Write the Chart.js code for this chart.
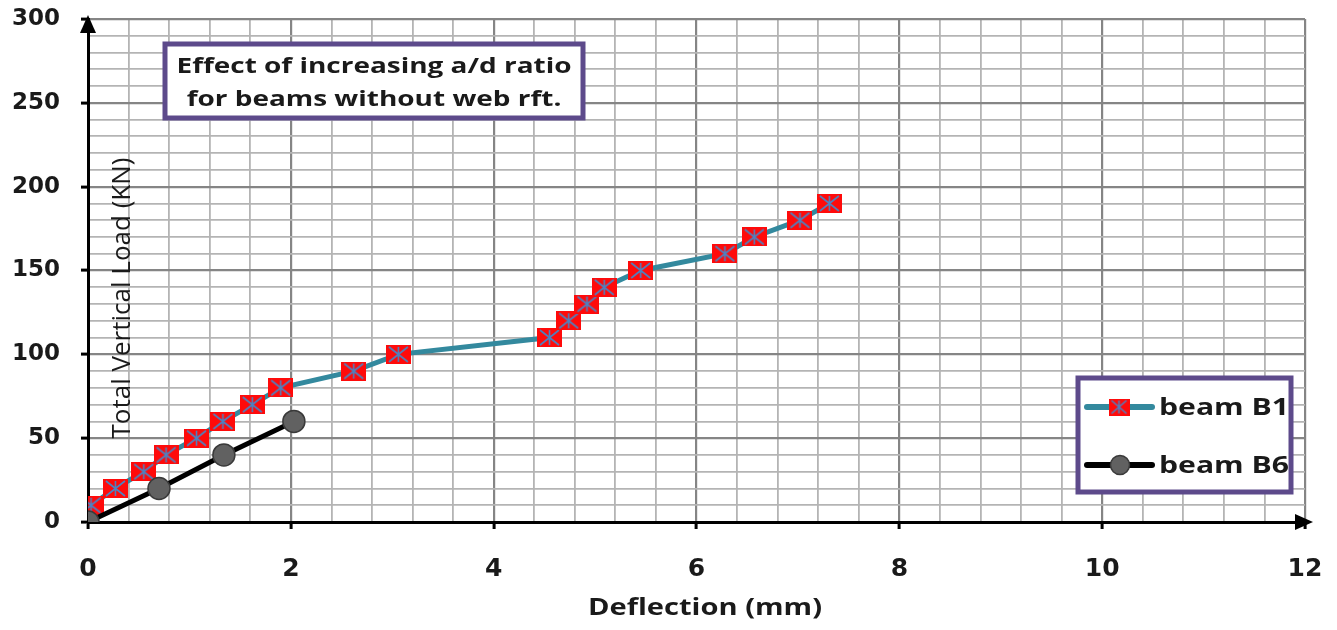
<!DOCTYPE html>
<html><head><meta charset="utf-8">
<script src="https://cdn.jsdelivr.net/npm/chart.js@4/dist/chart.umd.min.js"></script>
<style>html,body{margin:0;padding:0;background:#fff}#wrap{width:1337px;height:630px;position:relative}</style>
</head><body><div id="wrap"><canvas id="c" width="1337" height="630"></canvas></div>
<script>
// ---- data ----
const seriesNames = ['beam B1', 'beam B6'];
const b1Deflection = [0.03, 0.27, 0.55, 0.77, 1.07, 1.33, 1.62, 1.90, 2.62, 3.06, 4.55, 4.74, 4.92, 5.09, 5.45, 6.28, 6.57, 7.02, 7.31];
const b1Load       = [10, 20, 30, 40, 50, 60, 70, 80, 90, 100, 110, 120, 130, 140, 150, 160, 170, 180, 190];
const b6Deflection = [0, 0.70, 1.34, 2.03];
const b6Load       = [0, 20, 40, 60];
const xTickLabels = [0, 2, 4, 6, 8, 10, 12];
const yTickLabels = [0, 50, 100, 150, 200, 250, 300];
const titleLines = ['Effect of increasing a/d ratio', 'for beams without web rft.'];
const xAxisTitle = 'Deflection (mm)';
const yAxisTitle = 'Total Vertical Load (KN)';

const FONT = '"Open Sans", Lato, sans-serif';
const TICKFONT = '"DejaVu Sans", sans-serif';
const TEAL = '#33899e';
const PURPLE = '#5d4a8b';
const TXT = '#1a1a1a';

function makeMarker(w, h) {
  const c = document.createElement('canvas');
  c.width = w; c.height = h;
  const g = c.getContext('2d');
  g.fillStyle = '#ff0a0a';
  g.fillRect(0, 0, w, h);
  g.strokeStyle = '#4a84c4';
  g.lineWidth = 1.6;
  g.beginPath();
  g.moveTo(3, 2); g.lineTo(w - 3, h - 2);
  g.moveTo(w - 3, 2); g.lineTo(3, h - 2);
  g.moveTo(w / 2, 2); g.lineTo(w / 2, h - 2);
  g.stroke();
  return c;
}
const bigMarker = makeMarker(25, 19);
const smallMarker = makeMarker(21, 17);

const xMajor = v => xTickLabels.some(t => Math.abs(t - v) < 1e-6);
const yMajor = v => yTickLabels.some(t => Math.abs(t - v) < 1e-6);

// draws text stretched along its direction to a target length
function fitText(ctx, text, x, y, font, width, align) {
  ctx.save();
  ctx.font = font;
  const w = ctx.measureText(text).width;
  const k = width / w;
  ctx.translate(x, y);
  ctx.scale(k, 1);
  ctx.textAlign = align || 'center';
  ctx.textBaseline = 'middle';
  ctx.fillText(text, 0, 0);
  ctx.restore();
  return k;
}

const overlay = {
  id: 'overlay',
  beforeDatasetsDraw(chart) {
    const ctx = chart.ctx;
    ctx.save();
    ctx.fillStyle = TXT;
    ctx.translate(123, 298);
    ctx.rotate(-Math.PI / 2);
    fitText(ctx, yAxisTitle, 0, 0, '26px ' + FONT, 281);
    ctx.restore();
  },
  afterDraw(chart) {
    const ctx = chart.ctx, a = chart.chartArea;
    ctx.save();
    // arrows
    ctx.fillStyle = '#000';
    ctx.beginPath();
    ctx.moveTo(a.left, a.top - 4);
    ctx.lineTo(a.left - 8, a.top + 14);
    ctx.lineTo(a.left + 8, a.top + 14);
    ctx.closePath(); ctx.fill();
    ctx.beginPath();
    ctx.moveTo(a.right + 8, a.bottom);
    ctx.lineTo(a.right - 10, a.bottom - 8);
    ctx.lineTo(a.right - 10, a.bottom + 8);
    ctx.closePath(); ctx.fill();

    // x axis title
    ctx.fillStyle = TXT;
    fitText(ctx, xAxisTitle, 705, 608, 'bold 24px ' + FONT, 234);

    // title box
    ctx.fillStyle = '#fff';
    ctx.fillRect(165, 44, 418, 74);
    ctx.strokeStyle = PURPLE; ctx.lineWidth = 5;
    ctx.strokeRect(165, 44, 418, 74);
    ctx.fillStyle = TXT;
    const tf = 'bold 22px ' + FONT;
    ctx.font = tf;
    const k = 395 / ctx.measureText(titleLines[0]).width;
    fitText(ctx, titleLines[0], 374, 67, tf, 395);
    ctx.font = tf;
    fitText(ctx, titleLines[1], 374, 100, tf, ctx.measureText(titleLines[1]).width * k);

    // legend
    ctx.fillStyle = '#fff';
    ctx.fillRect(1078, 378, 213, 114);
    ctx.strokeStyle = PURPLE; ctx.lineWidth = 5;
    ctx.strokeRect(1078, 378, 213, 114);
    const ds = chart.data.datasets;
    const rows = [407, 465];
    ctx.lineCap = 'round';
    ds.forEach((d, i) => {
      const y = rows[i];
      ctx.strokeStyle = d.borderColor; ctx.lineWidth = 6;
      ctx.beginPath(); ctx.moveTo(1087, y); ctx.lineTo(1152, y); ctx.stroke();
      if (i === 0) {
        ctx.drawImage(smallMarker, 1119 - smallMarker.width / 2, y - smallMarker.height / 2);
      } else {
        ctx.fillStyle = d.pointBackgroundColor; ctx.strokeStyle = d.pointBorderColor; ctx.lineWidth = 1.5;
        ctx.beginPath(); ctx.arc(1120, y, 9.5, 0, Math.PI * 2); ctx.fill(); ctx.stroke();
      }
      ctx.fillStyle = TXT;
      fitText(ctx, d.label, 1159, y + 1, 'bold 24px ' + FONT, 130, 'left');
    });
    ctx.restore();
  }
};

new Chart(document.getElementById('c'), {
  type: 'scatter',
  data: {
    datasets: [
      {
        label: seriesNames[0],
        data: b1Deflection.map((x, i) => ({ x, y: b1Load[i] })),
        showLine: true, borderColor: TEAL, borderWidth: 5, tension: 0,
        pointStyle: bigMarker, pointRadius: 10, pointHoverRadius: 10,
        order: 1
      },
      {
        label: seriesNames[1],
        data: b6Deflection.map((x, i) => ({ x, y: b6Load[i] })),
        showLine: true, borderColor: '#000', borderWidth: 5, tension: 0,
        pointStyle: 'circle', pointRadius: 11, pointHoverRadius: 11,
        pointBackgroundColor: '#616161', pointBorderColor: '#3a3a3a', pointBorderWidth: 1.5,
        order: 0
      }
    ]
  },
  options: {
    responsive: false, animation: false,
    layout: { padding: { top: 19, right: 32, left: 0, bottom: 0 } },
    plugins: { legend: { display: false }, tooltip: { enabled: false } },
    scales: {
      x: {
        type: 'linear', min: 0, max: 12,
        afterFit: s => { s.height = 108; s.paddingLeft = 0; s.paddingRight = 0; },
        ticks: {
          stepSize: 0.4, autoSkip: false, maxRotation: 0, padding: 25, color: TXT,
          font: { family: TICKFONT, size: 25, weight: 'bold' },
          callback: v => xMajor(v) ? String(Math.round(v)) : ''
        },
        grid: {
          color: c => xMajor(c.tick.value) ? '#858585' : '#b4b4b4',
          lineWidth: c => xMajor(c.tick.value) ? 2.2 : 1.8,
          tickColor: c => xMajor(c.tick.value) ? '#000' : 'rgba(0,0,0,0)',
          tickLength: 7, tickWidth: 3
        },
        border: { color: '#000', width: 3 }
      },
      y: {
        type: 'linear', min: 0, max: 300,
        afterFit: s => { s.width = 88; s.paddingTop = 0; s.paddingBottom = 0; },
        ticks: {
          stepSize: 10, autoSkip: false, padding: 21, color: TXT,
          font: { family: TICKFONT, size: 23, weight: 'bold' },
          callback: v => yMajor(v) ? String(Math.round(v)) : ''
        },
        grid: {
          color: c => yMajor(c.tick.value) ? '#858585' : '#b4b4b4',
          lineWidth: c => yMajor(c.tick.value) ? 2.2 : 1.8,
          tickColor: c => yMajor(c.tick.value) ? '#000' : 'rgba(0,0,0,0)',
          tickLength: 7, tickWidth: 3
        },
        border: { color: '#000', width: 3 }
      }
    }
  },
  plugins: [overlay]
});
</script>
</body></html>
